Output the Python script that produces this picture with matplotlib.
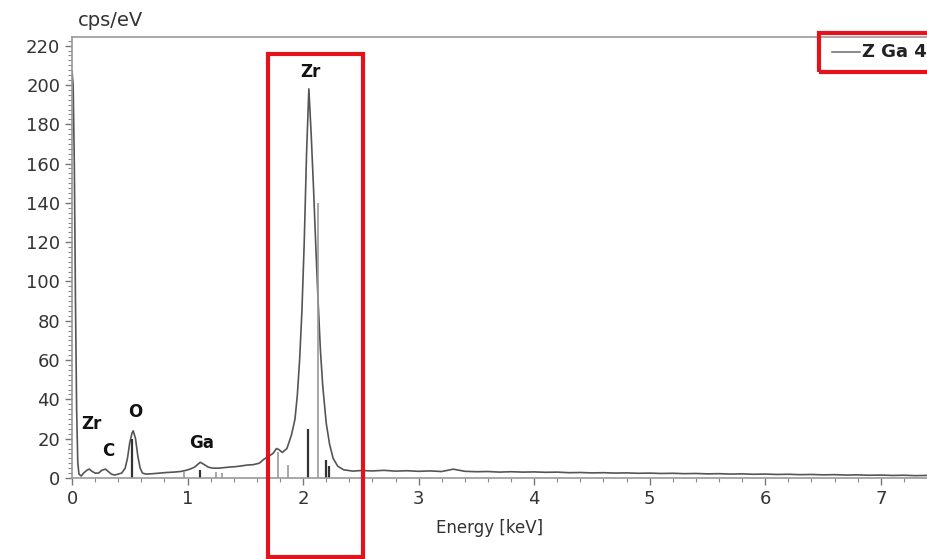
import matplotlib
matplotlib.use("Agg")
import matplotlib.pyplot as plt
from matplotlib.patches import Rectangle
from matplotlib.lines import Line2D
from matplotlib.ticker import MultipleLocator

# --- DATA ---
energy = [0.00, 0.01, 0.02, 0.03, 0.04, 0.05, 0.06, 0.08, 0.10, 0.13,
          0.15, 0.17, 0.20, 0.23, 0.26, 0.29, 0.31, 0.34, 0.37, 0.40,
          0.43, 0.46, 0.48, 0.50, 0.52, 0.53, 0.55, 0.57, 0.59, 0.61,
          0.64, 0.70, 0.76, 0.82, 0.88, 0.94, 0.98, 1.02, 1.06, 1.09,
          1.11, 1.14, 1.18, 1.22, 1.27, 1.32, 1.37, 1.42, 1.47, 1.52,
          1.57, 1.62, 1.66, 1.70, 1.74, 1.77, 1.79, 1.82, 1.86, 1.90,
          1.93, 1.95, 1.97, 1.99, 2.01, 2.03, 2.05, 2.07, 2.09, 2.11,
          2.13, 2.15, 2.17, 2.20, 2.23, 2.26, 2.30, 2.35, 2.43, 2.50,
          2.6, 2.7, 2.8, 2.9, 3.0, 3.1, 3.2, 3.3, 3.4, 3.5,
          3.6, 3.7, 3.8, 3.9, 4.0, 4.1, 4.2, 4.3, 4.4, 4.5,
          4.6, 4.7, 4.8, 4.9, 5.0, 5.1, 5.2, 5.3, 5.4, 5.5,
          5.6, 5.7, 5.8, 5.9, 6.0, 6.1, 6.2, 6.3, 6.4, 6.5,
          6.6, 6.7, 6.8, 6.9, 7.0, 7.1, 7.2, 7.3, 7.4]
counts = [207, 200, 160, 90, 35, 8, 2, 1, 2.5, 4,
          4.5, 3.5, 2.5, 2.5, 4, 4.5, 3.5, 2, 1.5, 2,
          2.5, 5, 10, 18, 23, 24, 20, 11, 5, 2.5,
          2, 2.2, 2.5, 2.8, 3, 3.3, 3.8, 4.5, 5.5, 7,
          8, 7, 5.5, 5, 5, 5.3, 5.6, 5.8, 6.2, 6.6,
          6.8, 7.5, 9.5, 11, 12.5, 15, 14.5, 13, 15, 22,
          30, 42, 60, 85, 120, 165, 198, 175, 148, 118,
          90, 65, 47, 28, 17, 10, 6, 4.2, 3.5, 3.8,
          3.6, 3.9, 3.5, 3.7, 3.4, 3.6, 3.3, 4.5, 3.4, 3.2,
          3.3, 3.0, 3.2, 3.0, 3.1, 2.9, 3.0, 2.7, 2.8, 2.6,
          2.7, 2.5, 2.6, 2.4, 2.5, 2.3, 2.4, 2.2, 2.3, 2.1,
          2.2, 2.0, 2.1, 1.9, 2.0, 1.8, 1.9, 1.7, 1.8, 1.6,
          1.7, 1.5, 1.6, 1.4, 1.5, 1.3, 1.4, 1.2, 1.3]

# element marker lines (energy, height)
marker_dark_e = [0.52, 1.11, 2.04, 2.20, 2.22]
marker_dark_h = [20, 4, 25, 9, 6]
marker_gray_e = [0.97, 1.25, 1.30, 1.78, 1.87, 2.125]
marker_gray_h = [3, 3, 2.5, 13, 6.5, 140]

peak_labels = ["Zr", "C", "O", "Ga", "Zr"]
peak_x = [0.17, 0.31, 0.55, 1.12, 2.06]
peak_y = [27.5, 13.7, 33.6, 17.8, 206.6]

legend_label = "Z Ga 4"

# --- PLOT ---
fig = plt.figure(figsize=(9.27, 5.59), dpi=100)
ax = fig.add_axes([72 / 927, 81 / 559, 855 / 927, 441 / 559])

ax.plot(energy, counts, color="#555555", lw=1.2)
ax.vlines(marker_dark_e, 0, marker_dark_h, color="#333333", lw=1.6)
ax.vlines(marker_gray_e, 0, marker_gray_h, color="#999999", lw=1.2)

ax.set_xlim(0, 7.4)
ax.set_ylim(0, 224.4)
ax.xaxis.set_major_locator(MultipleLocator(1))
ax.xaxis.set_minor_locator(MultipleLocator(0.2))
ax.yaxis.set_major_locator(MultipleLocator(20))
ax.yaxis.set_minor_locator(MultipleLocator(2.5))
ax.tick_params(which="major", length=5, width=1, color="#777777",
               labelsize=13, labelcolor="#333333")
ax.tick_params(which="minor", length=3, width=0.8, color="#888888")

for s in ["left", "bottom", "top"]:
    ax.spines[s].set_color("#999999")
    ax.spines[s].set_linewidth(1.2)
ax.spines["right"].set_visible(False)

for lab, x, y in zip(peak_labels, peak_x, peak_y):
    ax.text(x, y, lab, ha="center", va="center", fontsize=12,
            fontweight="bold", color="#111111")

fig.text(78 / 927, 1 - 20 / 559, "cps/eV", fontsize=14, color="#333333",
         ha="left", va="center")
fig.text(490 / 927, 1 - 528 / 559, "Energy [keV]", fontsize=12,
         color="#333333", ha="center", va="center")

# red highlight boxes
fig.add_artist(Rectangle((268 / 927, 1 - 557 / 559), 95 / 927, 503 / 559,
                         transform=fig.transFigure, fill=False,
                         edgecolor="#e3121b", lw=3))
fig.add_artist(Rectangle((819 / 927, 1 - 72 / 559), 120 / 927, 39 / 559,
                         transform=fig.transFigure, fill=False,
                         edgecolor="#e3121b", lw=3, clip_on=False))

# legend entry
fig.add_artist(Line2D([832 / 927, 860 / 927], [1 - 52 / 559, 1 - 52 / 559],
                      transform=fig.transFigure, color="#777777", lw=1.2))
fig.text(862 / 927, 1 - 52 / 559, legend_label, fontsize=13,
         fontweight="bold", color="#222222", ha="left", va="center")

fig.savefig("out.png", dpi=100)
